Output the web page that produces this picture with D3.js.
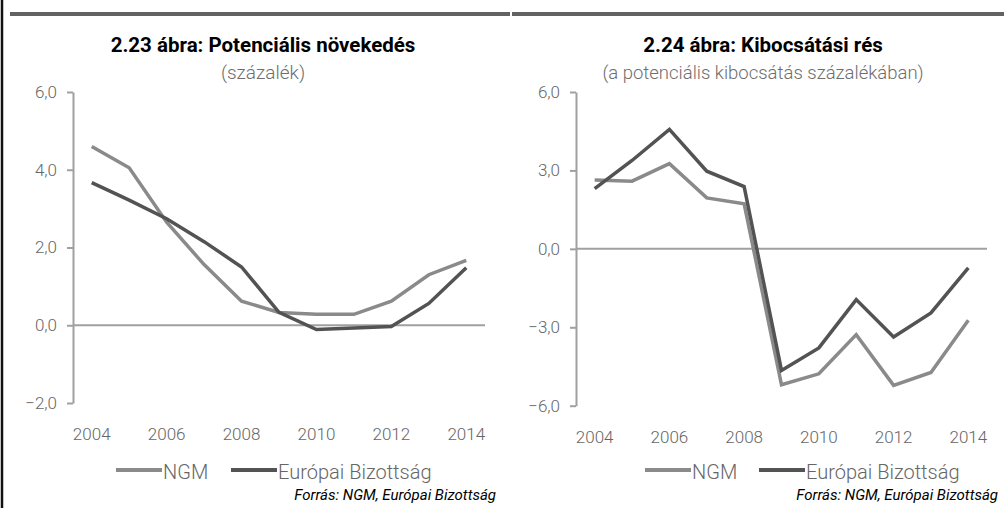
<!DOCTYPE html>
<html>
<head>
<meta charset="utf-8">
<script src="https://cdn.jsdelivr.net/npm/d3@7"></script>
<style>
	body { margin: 0; background: #fff; }
	svg { display: block; font-family: Roboto, "Liberation Sans", sans-serif; }
</style>
</head>
<body>
<div id="viz"></div>
<script>
// years on the category axis
const years = [2004, 2005, 2006, 2007, 2008, 2009, 2010, 2011, 2012, 2013, 2014];
const xTickLabels = [2004, 2006, 2008, 2010, 2012, 2014];

// 2.23: potential growth (%)
const growthNGM = [4.6, 4.05, 2.65, 1.56, 0.62, 0.33, 0.28, 0.28, 0.62, 1.3, 1.67];
const growthEB = [3.67, 3.22, 2.74, 2.15, 1.5, 0.33, -0.11, -0.07, -0.03, 0.56, 1.48];
const growthTicks = [-2, 0, 2, 4, 6];

// 2.24: output gap (% of potential output)
const gapNGM = [2.63, 2.59, 3.26, 1.95, 1.72, -5.2, -4.78, -3.28, -5.22, -4.73, -2.73];
const gapEB = [2.3, 3.38, 4.57, 2.97, 2.38, -4.65, -3.79, -1.94, -3.37, -2.45, -0.73];
const gapTicks = [-6, -3, 0, 3, 6];

const seriesNames = ["NGM", "Európai Bizottság"];
const seriesColors = ["#8a8a8a", "#535353"];
const source = "Forrás: NGM, Európai Bizottság";

const W = 1005, H = 508;

const svg = d3.select("#viz")
	.append("svg")
	.attr("width", W)
	.attr("height", H);

// frame: left border and the two top rules
svg.append("line")
	.attr("x1", 2).attr("x2", 2).attr("y1", 0).attr("y2", H)
	.attr("stroke", "#111").attr("stroke-width", 2.5);
svg.append("line")
	.attr("x1", 10).attr("x2", 510).attr("y1", 14).attr("y2", 14)
	.attr("stroke", "#626262").attr("stroke-width", 4);
svg.append("line")
	.attr("x1", 512).attr("x2", 1004).attr("y1", 14).attr("y2", 14)
	.attr("stroke", "#626262").attr("stroke-width", 4);

const fmt = (d) => d3.format(".1f")(d).replace(".", ",");

function drawPanel(p) {
	const g = svg.append("g");

	const x = d3.scaleBand().domain(years).range([p.x0, p.x1]);
	const y = d3.scaleLinear().domain(p.domain).range([p.yBottom, p.yTop]);
	const cx = (d) => x(d) + x.bandwidth() / 2;

	// titles
	g.append("text")
		.attr("x", p.cx).attr("y", 52)
		.attr("text-anchor", "middle")
		.attr("font-size", 20.5).attr("font-weight", "bold")
		.attr("fill", "#000")
		.text(p.title);
	g.append("text")
		.attr("x", p.cx).attr("y", 79)
		.attr("text-anchor", "middle")
		.attr("font-size", p.subSize).attr("font-weight", 300)
		.attr("fill", "#6e6e6e")
		.text(p.subtitle);

	// y axis
	const yAxis = g.append("g")
		.attr("transform", `translate(${p.x0},0)`)
		.call(d3.axisLeft(y).tickValues(p.ticks).tickSize(6).tickSizeOuter(0).tickPadding(10).tickFormat(fmt));
	yAxis.select(".domain").attr("stroke", "#a0a0a0").attr("stroke-width", 2);
	yAxis.selectAll(".tick line").attr("stroke", "#a0a0a0").attr("stroke-width", 2);
	yAxis.selectAll(".tick text")
		.attr("fill", "#666").attr("font-size", 17).attr("font-weight", 300)
		.attr("font-family", "Roboto, sans-serif");

	// category axis line at zero
	g.append("line")
		.attr("x1", p.x0).attr("x2", p.x1)
		.attr("y1", y(0)).attr("y2", y(0))
		.attr("stroke", "#a0a0a0").attr("stroke-width", 2);

	// year labels (low position)
	const xAxis = g.append("g")
		.attr("transform", `translate(0,${p.yBottom})`)
		.call(d3.axisBottom(x).tickValues(xTickLabels).tickSize(0).tickPadding(25));
	xAxis.select(".domain").remove();
	xAxis.selectAll(".tick text")
		.attr("fill", "#666").attr("font-size", 17).attr("font-weight", 300)
		.attr("font-family", "Roboto, sans-serif");

	// lines
	const line = d3.line().x((d, i) => cx(years[i])).y((d) => y(d));
	[p.ngm, p.eb].forEach((vals, i) => {
		g.append("path")
			.datum(vals)
			.attr("d", line)
			.attr("fill", "none")
			.attr("stroke", seriesColors[i])
			.attr("stroke-width", 3.5)
			.attr("stroke-linejoin", "miter");
	});

	// legend
	seriesNames.forEach((name, i) => {
		const lx = p.legendX[i];
		g.append("line")
			.attr("x1", lx).attr("x2", lx + 46)
			.attr("y1", 470).attr("y2", 470)
			.attr("stroke", seriesColors[i]).attr("stroke-width", 4);
		g.append("text")
			.attr("x", lx + 47).attr("y", 479)
			.attr("font-size", 20).attr("font-weight", 300)
			.attr("fill", "#666")
			.text(name);
	});

	// source note
	g.append("text")
		.attr("x", p.sourceX).attr("y", 500)
		.attr("text-anchor", "end")
		.attr("font-size", 15).attr("font-style", "italic")
		.attr("fill", "#000")
		.text(source);
}

drawPanel({
	title: "2.23 ábra: Potenciális növekedés",
	subtitle: "(százalék)",
	subSize: 19,
	cx: 263,
	x0: 73, x1: 485,
	yTop: 92, yBottom: 403,
	domain: [-2, 6],
	ticks: growthTicks,
	ngm: growthNGM, eb: growthEB,
	legendX: [116, 231],
	sourceX: 496
});

drawPanel({
	title: "2.24 ábra: Kibocsátási rés",
	subtitle: "(a potenciális kibocsátás százalékában)",
	subSize: 18.5,
	cx: 763,
	x0: 576, x1: 987,
	yTop: 92, yBottom: 405.7,
	domain: [-6, 6],
	ticks: gapTicks,
	ngm: gapNGM, eb: gapEB,
	legendX: [645, 759],
	sourceX: 998
});
</script>
</body>
</html>
